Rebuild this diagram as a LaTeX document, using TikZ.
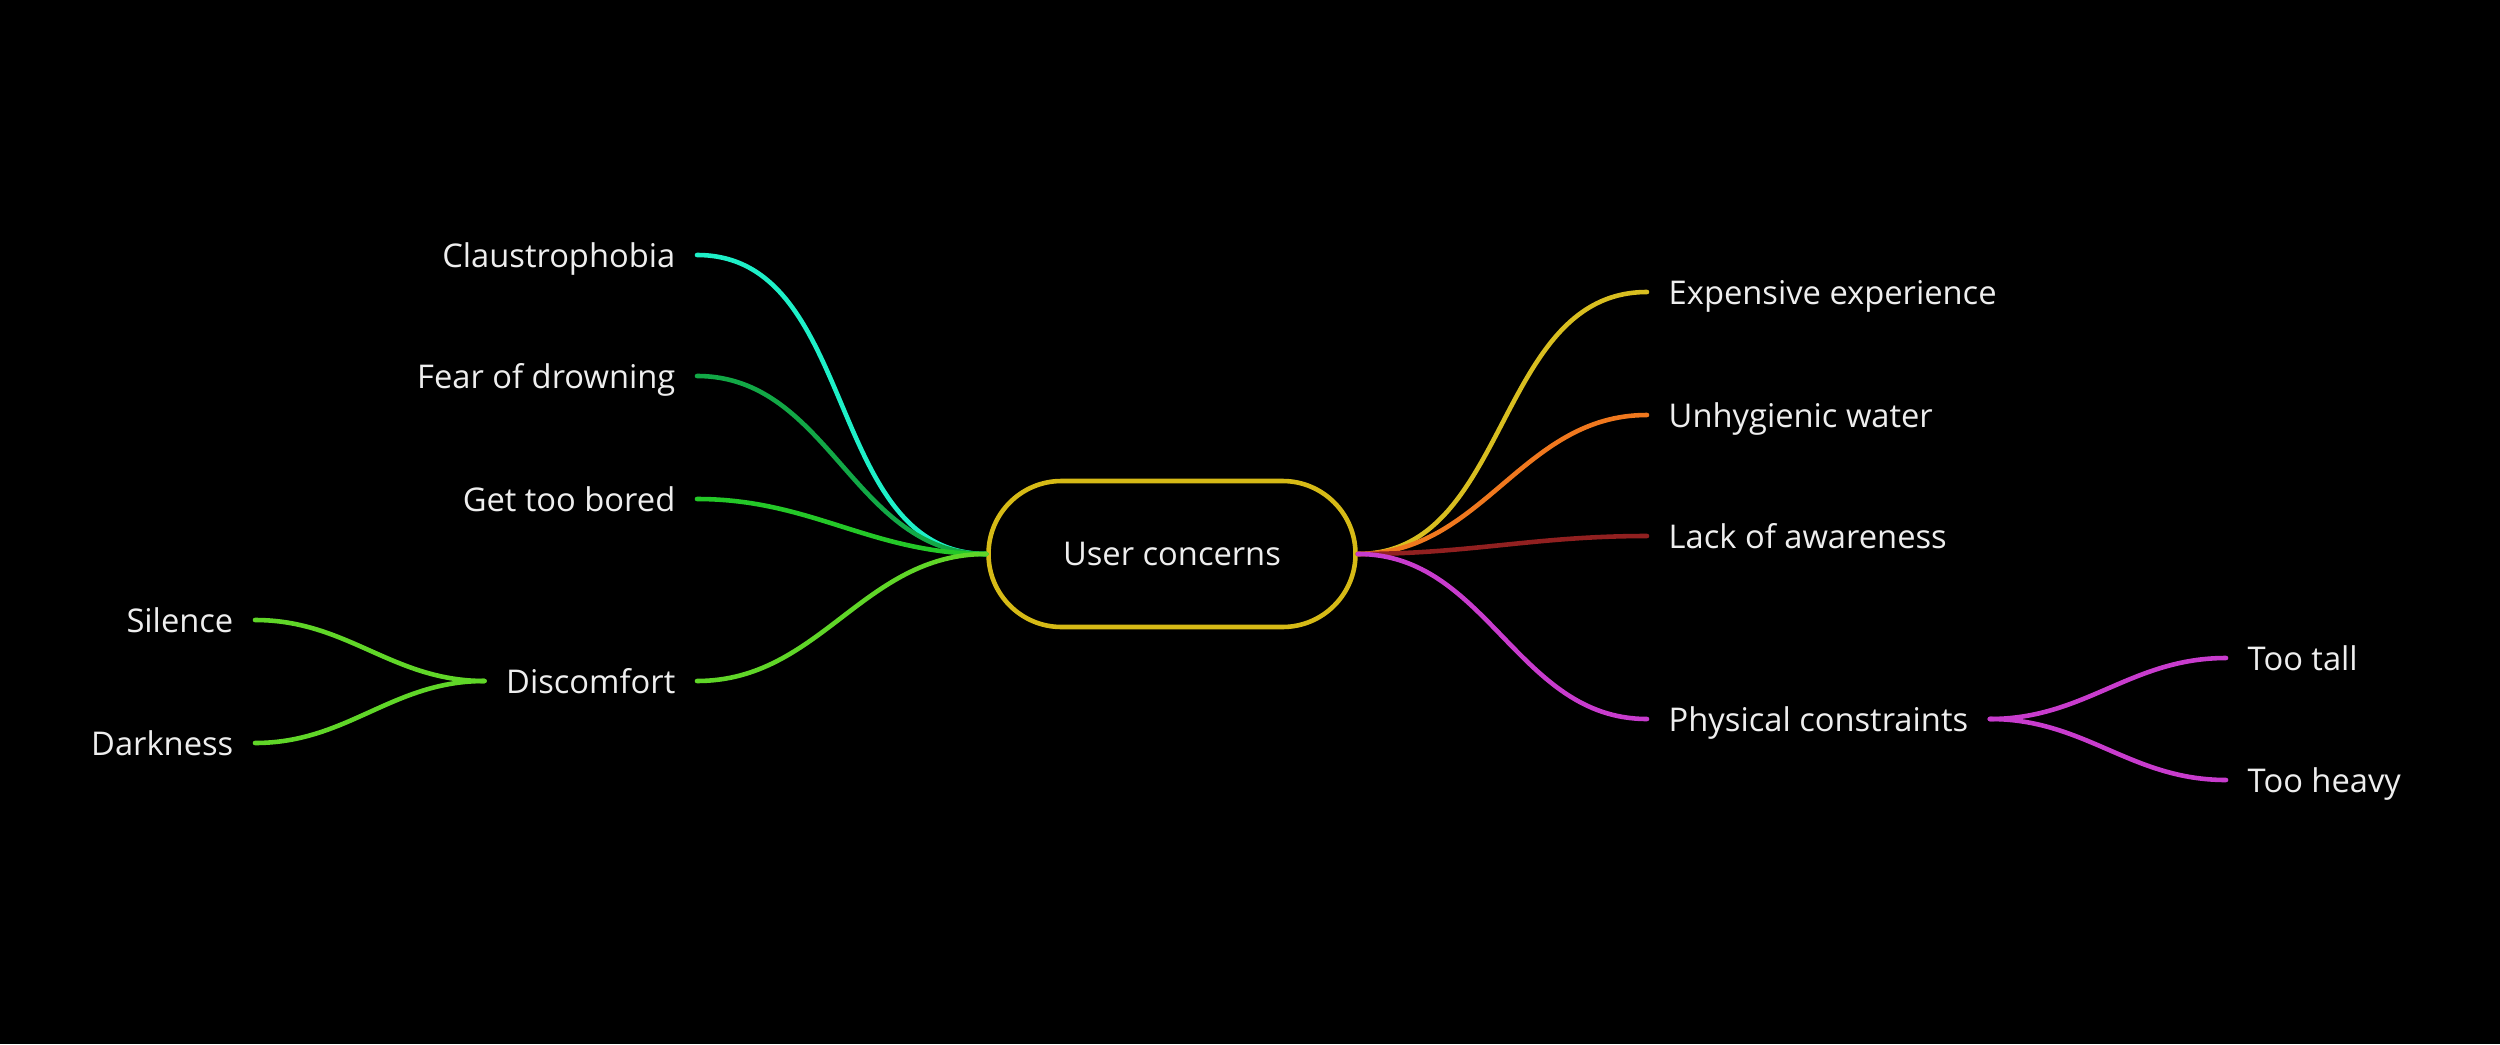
\documentclass[tikz,border=0pt]{standalone}
\usepackage{fontspec}
\setmainfont{Open Sans}
\usepackage{tikz}
\usetikzlibrary{positioning}
\definecolor{cBorde}{RGB}{214,186,22}
\definecolor{cTexto}{RGB}{238,238,238}
\definecolor{cIzqA}{RGB}{30,240,200}
\definecolor{cIzqB}{RGB}{18,168,70}
\definecolor{cIzqC}{RGB}{36,200,40}
\definecolor{cIzqD}{RGB}{96,214,40}
\definecolor{cDerA}{RGB}{216,190,32}
\definecolor{cDerB}{RGB}{240,120,30}
\definecolor{cDerC}{RGB}{145,32,32}
\definecolor{cDerD}{RGB}{200,60,205}
\begin{document}
\begin{tikzpicture}
	[hoja/.style={text=cTexto,inner xsep=0.21cm,inner ysep=0pt,text height=0.72em,text depth=0pt},
	rama/.style={line width=1.3pt,line cap=round},
	raiz/.style={draw=cBorde,line width=1.3pt,fill=black,rounded corners=0.73cm,minimum width=3.67cm,minimum height=1.46cm,text=cTexto},
	font=\fontsize{9.3}{11}\selectfont]
	\fill[black] (0,0) rectangle (25,10.44);
	\useasboundingbox (0,0) rectangle (25,10.44);
	%%%%% ROOT
	\node[raiz] (centro) at (11.72,4.90) {User concerns};
	%%%%% LEFT
	\foreach \i/\y/\txt/\col in {1/7.89/Claustrophobia/cIzqA,2/6.68/Fear of drowning/cIzqB,3/5.45/Get too bored/cIzqC,4/3.63/Discomfort/cIzqD}
	{
	\node[hoja,anchor=east] (izq\i) at (6.97,\y) {\txt};
	\draw[rama,draw=\col] (centro.west) to[out=180,in=0] (izq\i.east);
	};
	\node[hoja,anchor=east] (izq41) at (2.55,4.24) {Silence};
	\node[hoja,anchor=east] (izq42) at (2.55,3.01) {Darkness};
	\foreach \j in {1,2}
	\draw[rama,draw=cIzqD] (izq4.west) to[out=180,in=0] (izq4\j.east);
	%%%%% RIGHT
	\foreach \i/\y/\txt/\col in {1/7.52/Expensive experience/cDerA,2/6.29/Unhygienic water/cDerB,3/5.08/Lack of awareness/cDerC,4/3.25/Physical constraints/cDerD}
	{
	\node[hoja,anchor=west] (der\i) at (16.47,\y) {\txt};
	\draw[rama,draw=\col] (centro.east) to[out=0,in=180] (der\i.west);
	};
	\node[hoja,anchor=west] (der41) at (22.26,3.86) {Too tall};
	\node[hoja,anchor=west] (der42) at (22.26,2.64) {Too heavy};
	\foreach \j in {1,2}
	\draw[rama,draw=cDerD] (der4.east) to[out=0,in=180] (der4\j.west);
\end{tikzpicture}
\end{document}
